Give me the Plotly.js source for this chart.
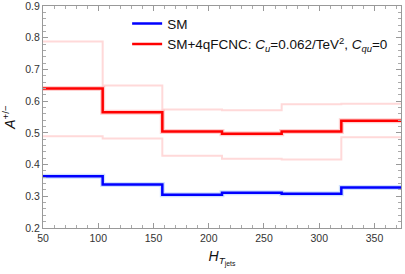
<!DOCTYPE html>
<html>
<head>
<meta charset="utf-8">
<script src="https://cdn.plot.ly/plotly-3.0.1.min.js"></script>
<style>html,body{margin:0;padding:0;background:#fff;}#chart{width:405px;height:274px;}</style>
</head>
<body>
<div id="chart"></div>
<script>
// Bin edges of H_T(jets)
var binEdges = [50, 104, 158, 212, 266, 320, 374];
// Asymmetry values per bin
var smValues = [0.363, 0.337, 0.305, 0.311, 0.308, 0.328];
var fcncValues = [0.640, 0.565, 0.504, 0.497, 0.504, 0.538];
var fcncUpper = [0.788, 0.649, 0.574, 0.571, 0.590, 0.592];
var fcncLower = [0.489, 0.482, 0.428, 0.418, 0.416, 0.486];
var xTickVals = [50, 100, 150, 200, 250, 300, 350];
var yTickVals = [0.2, 0.3, 0.4, 0.5, 0.6, 0.7, 0.8, 0.9];

function stepY(v) { return v.concat([v[v.length - 1]]); }

var traces = [
  {x: binEdges, y: stepY(fcncUpper), mode: 'lines', line: {shape: 'hv', color: '#ffd9d9', width: 2}, showlegend: false, hoverinfo: 'skip'},
  {x: binEdges, y: stepY(fcncLower), mode: 'lines', line: {shape: 'hv', color: '#ffd9d9', width: 2}, showlegend: false, hoverinfo: 'skip'},
  {x: binEdges, y: stepY(smValues), mode: 'lines', line: {shape: 'hv', color: 'rgba(120,170,255,0.35)', width: 5}, showlegend: false, hoverinfo: 'skip'},
  {x: binEdges, y: stepY(fcncValues), mode: 'lines', line: {shape: 'hv', color: 'rgba(255,120,120,0.35)', width: 5}, showlegend: false, hoverinfo: 'skip'},
  {x: binEdges, y: stepY(smValues), mode: 'lines', name: 'SM', line: {shape: 'hv', color: '#0000ff', width: 2.5}},
  {x: binEdges, y: stepY(fcncValues), mode: 'lines', name: 'SM+4qFCNC: <i>C</i><sub><i>u</i></sub>=0.062/TeV<sup>2</sup>, <i>C</i><sub><i>qu</i></sub>=0', line: {shape: 'hv', color: '#ff0000', width: 2.5}}
];

var axisCommon = {
  showgrid: false, zeroline: false, showline: true, mirror: 'allticks',
  linecolor: '#999', linewidth: 1, ticks: 'inside', ticklen: 5, tickwidth: 1, tickcolor: '#999',
  ticklabeloverflow: 'allow',
  tickfont: {family: 'Liberation Sans, Arial, sans-serif', size: 10.5, color: '#333'}
};

var layout = {
  width: 405, height: 274,
  margin: {l: 43, r: 4, t: 6, b: 46},
  paper_bgcolor: '#fff', plot_bgcolor: '#fff',
  font: {family: 'Liberation Sans, Arial, sans-serif', color: '#111'},
  xaxis: Object.assign({}, axisCommon, {
    range: [50, 374], tickvals: xTickVals, ticktext: xTickVals.map(String),
    minor: {ticks: 'inside', ticklen: 3, tickcolor: '#aaa', tickwidth: 1, dtick: 10, tick0: 50},
    title: {text: '<i>H</i><sub><i>T</i><sub>jets</sub></sub>', font: {size: 14, color: '#111'}, standoff: 8}
  }),
  yaxis: Object.assign({}, axisCommon, {
    range: [0.2, 0.9], tickvals: yTickVals, ticktext: yTickVals.map(function(v){return v.toFixed(1);}),
    minor: {ticks: 'inside', ticklen: 3, tickcolor: '#aaa', tickwidth: 1, dtick: 0.02, tick0: 0.2},
    title: {text: '<i>A</i><sup>+/−</sup>', font: {size: 14, color: '#111'}, standoff: 6}
  }),
  legend: {
    x: 0.235, y: 0.99, xanchor: 'left', yanchor: 'top',
    bgcolor: 'rgba(0,0,0,0)', borderwidth: 0,
    font: {family: 'Liberation Sans, Arial, sans-serif', size: 13.5, color: '#111'},
    tracegroupgap: 0
  },
  showlegend: true
};

Plotly.newPlot('chart', traces, layout, {displayModeBar: false, staticPlot: true});
</script>
</body>
</html>
